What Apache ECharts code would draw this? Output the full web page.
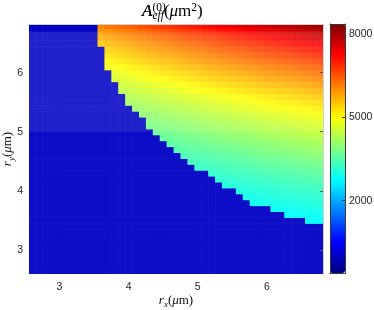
<!DOCTYPE html>
<html><head><meta charset="utf-8">
<script src="https://cdn.jsdelivr.net/npm/echarts@6/dist/echarts.min.js"></script>
<style>html,body{margin:0;padding:0;background:#fff}#c{width:374px;height:310px}</style>
</head><body><div id="c"></div>
<script>
// grid columns / rows (cell centres, micrometres)
const xValues = [2.6,2.7,2.8,2.9,3.0,3.1,3.2,3.3,3.4,3.5,3.6,3.7,3.8,3.9,4.0,4.1,4.2,4.3,4.4,4.5,4.6,4.7,4.8,4.9,5.0,5.1,5.2,5.3,5.4,5.5,5.6,5.7,5.8,5.9,6.0,6.1,6.2,6.3,6.4,6.5,6.6,6.7,6.8];
const yValues = [2.6,2.7,2.8,2.9,3.0,3.1,3.2,3.3,3.4,3.5,3.6,3.7,3.8,3.9,4.0,4.1,4.2,4.3,4.4,4.5,4.6,4.7,4.8,4.9,5.0,5.1,5.2,5.3,5.4,5.5,5.6,5.7,5.8,5.9,6.0,6.1,6.2,6.3,6.4,6.5,6.6,6.7,6.8];
// rows where the mode exists, first guided r_x of each row, and A_eff values from there to r_x = 6.8
const rowY = [6.8,6.7,6.6,6.5,6.4,6.3,6.2,6.1,6.0,5.9,5.8,5.7,5.6,5.5,5.4,5.3,5.2,5.1,5.0,4.9,4.8,4.7,4.6,4.5,4.4,4.3,4.2,4.1,4.0,3.9,3.8,3.7,3.6,3.5];
const rowFirstX = [3.6,3.6,3.6,3.6,3.7,3.7,3.7,3.7,3.8,3.8,3.9,3.9,4.0,4.0,4.1,4.2,4.3,4.3,4.4,4.5,4.6,4.7,4.8,4.9,5.0,5.2,5.3,5.4,5.6,5.7,5.8,6.1,6.3,6.6];
const rowValues = [
[6080,6160,6230,6310,6380,6450,6520,6590,6660,6730,6790,6860,6930,6990,7050,7120,7180,7240,7300,7360,7420,7480,7540,7600,7660,7710,7770,7830,7880,7940,7990,8050,8100],
[5890,5960,6030,6110,6180,6240,6310,6380,6450,6510,6570,6640,6710,6770,6820,6890,6950,7010,7070,7120,7180,7240,7300,7360,7410,7460,7520,7580,7630,7690,7730,7790,7840],
[5700,5770,5840,5910,5980,6040,6110,6180,6240,6310,6360,6430,6490,6550,6610,6670,6730,6780,6840,6900,6950,7010,7070,7120,7180,7230,7280,7340,7380,7440,7490,7540,7590],
[5510,5590,5650,5720,5790,5850,5910,5980,6040,6100,6160,6220,6280,6340,6390,6460,6510,6570,6620,6670,6730,6780,6840,6890,6950,6990,7050,7100,7150,7200,7250,7300,7350],
[5410,5470,5540,5600,5660,5720,5790,5850,5910,5960,6020,6080,6140,6190,6250,6300,6360,6410,6460,6510,6570,6620,6670,6720,6770,6820,6870,6920,6970,7010,7070,7110],
[5230,5290,5360,5420,5480,5540,5600,5660,5720,5770,5830,5890,5940,5990,6050,6100,6150,6200,6250,6310,6360,6410,6460,6510,6550,6600,6650,6700,6750,6790,6840,6880],
[5070,5120,5190,5250,5310,5360,5420,5480,5540,5590,5640,5700,5750,5800,5860,5910,5960,6000,6050,6100,6150,6200,6250,6300,6340,6390,6440,6480,6530,6570,6620,6660],
[4900,4960,5020,5080,5140,5190,5250,5300,5360,5410,5460,5520,5570,5610,5670,5720,5760,5810,5860,5910,5960,6000,6050,6100,6140,6190,6230,6270,6320,6360,6410,6450],
[4800,4860,4920,4970,5030,5080,5130,5190,5230,5290,5340,5390,5440,5490,5540,5580,5630,5670,5720,5770,5810,5860,5910,5940,5990,6040,6070,6120,6160,6210,6240],
[4650,4710,4760,4810,4870,4920,4970,5020,5070,5120,5170,5220,5260,5310,5360,5400,5450,5490,5540,5580,5630,5670,5720,5750,5800,5840,5880,5930,5960,6010,6040],
[4560,4610,4660,4710,4760,4810,4860,4900,4950,5000,5050,5090,5140,5190,5230,5270,5320,5360,5400,5450,5490,5530,5570,5610,5660,5690,5730,5770,5810,5850],
[4410,4460,4510,4560,4610,4660,4700,4750,4800,4850,4890,4930,4980,5020,5060,5100,5150,5190,5230,5270,5310,5360,5390,5430,5470,5510,5550,5590,5630,5660],
[4320,4370,4410,4460,4510,4560,4600,4640,4690,4730,4770,4820,4860,4900,4940,4980,5020,5060,5100,5140,5180,5220,5260,5300,5330,5370,5410,5450,5480],
[4180,4230,4270,4320,4360,4410,4450,4500,4540,4580,4620,4670,4700,4740,4780,4820,4860,4900,4940,4980,5020,5050,5090,5130,5160,5200,5240,5270,5310],
[4090,4140,4180,4220,4270,4310,4350,4400,4430,4470,4520,4550,4590,4630,4670,4710,4740,4780,4820,4860,4890,4930,4970,5000,5040,5070,5100,5140],
[4000,4050,4090,4130,4170,4210,4260,4290,4330,4370,4410,4440,4480,4520,4560,4590,4630,4670,4700,4730,4770,4810,4840,4880,4900,4940,4970],
[3920,3960,4000,4040,4080,4120,4150,4190,4230,4270,4300,4340,4370,4410,4450,4480,4520,4550,4580,4620,4650,4680,4720,4750,4780,4810],
[3790,3830,3870,3910,3950,3990,4020,4060,4100,4130,4170,4200,4230,4270,4300,4340,4370,4410,4440,4470,4500,4530,4570,4600,4630,4660],
[3710,3750,3780,3820,3860,3890,3930,3970,4000,4030,4070,4100,4130,4170,4200,4230,4270,4290,4330,4360,4390,4420,4450,4480,4510],
[3630,3660,3700,3740,3770,3800,3840,3870,3900,3940,3970,4000,4030,4060,4100,4130,4160,4190,4220,4250,4280,4310,4340,4370],
[3540,3580,3620,3650,3680,3720,3750,3780,3810,3840,3870,3900,3940,3970,4000,4020,4050,4090,4110,4140,4170,4200,4230],
[3470,3500,3530,3560,3600,3630,3660,3690,3720,3750,3780,3810,3840,3870,3900,3920,3960,3980,4010,4040,4070,4090],
[3390,3420,3450,3480,3510,3540,3570,3600,3630,3660,3690,3720,3750,3770,3800,3830,3850,3880,3910,3940,3960],
[3310,3340,3370,3400,3430,3450,3480,3510,3540,3570,3600,3630,3650,3680,3710,3730,3760,3780,3810,3830],
[3230,3260,3290,3320,3340,3370,3400,3430,3460,3480,3510,3530,3560,3590,3610,3640,3660,3690,3710],
[3180,3210,3240,3260,3290,3320,3340,3370,3400,3420,3450,3470,3500,3520,3540,3570,3590],
[3110,3140,3160,3190,3210,3240,3260,3290,3310,3340,3360,3380,3410,3430,3460,3480],
[3030,3060,3080,3110,3130,3160,3180,3200,3230,3250,3280,3300,3320,3350,3370],
[2990,3010,3030,3060,3080,3100,3130,3150,3170,3190,3210,3240,3260],
[2910,2940,2960,2980,3000,3030,3050,3070,3090,3110,3140,3150],
[2840,2870,2890,2910,2930,2950,2970,2990,3010,3030,3050],
[2810,2840,2860,2880,2900,2920,2940,2960],
[2770,2780,2800,2820,2840,2860],
[2730,2750,2770]
];
const cutoffValue = 0;          // below cutoff (no guided mode)
const xTicks = [3, 4, 5, 6];
const yTicks = [3, 4, 5, 6];
const colorbarTicks = [2000, 5000, 8000];
const xRange = [2.56, 6.81];
const yRange = [2.59, 6.825];
const colorRange = [-603, 8360];

const cells = [];
yValues.forEach(function (y) {
  const r = rowY.indexOf(y);
  xValues.forEach(function (x) {
    let v = cutoffValue;
    if (r >= 0) {
      const k = Math.round((x - rowFirstX[r]) * 10);
      if (k >= 0 && k < rowValues[r].length) v = rowValues[r][k];
    }
    cells.push([x, y, v]);
  });
});

const halfX = (xValues[1] - xValues[0]) / 2;
const halfY = (yValues[1] - yValues[0]) / 2;
// image patches: lower/upper y limit and white wash strength
const washBands = [[yRange[0], 5.0, 0.05], [5.0, 6.7, 0.13]];

const jet = ['#000080','#0000ff','#0080ff','#00ffff','#80ff80','#ffff00','#ff8000','#ff0000','#800000'];

const serif = 'Liberation Serif';
function rich(size, sub, lh, slh) {
  return {
    it: {fontFamily: serif, fontStyle: 'italic', fontSize: size, lineHeight: lh, color: '#111'},
    n: {fontFamily: serif, fontSize: size, lineHeight: lh, color: '#111'},
    sub: {fontFamily: serif, fontStyle: 'italic', fontSize: sub, lineHeight: slh, verticalAlign: 'bottom', color: '#111'},
    sup: {fontFamily: serif, fontSize: sub, lineHeight: slh, verticalAlign: 'top', color: '#111'},
    ghost: {fontFamily: serif, fontStyle: 'italic', fontSize: size, lineHeight: lh, color: 'rgba(0,0,0,0)'}
  };
}
const plain = function (v) { return String(v); };

const chart = echarts.init(document.getElementById('c'), null, {renderer: 'canvas'});
const sans = 'Liberation Sans';
chart.setOption({
  animation: false,
  backgroundColor: '#fff',
  grid: [
    {left: 29, top: 24, width: 294, height: 250, outerBoundsMode: 'none', containLabel: false},
    {left: 330, top: 24, width: 15, height: 249, outerBoundsMode: 'none', containLabel: false}
  ],
  xAxis: [
    {gridIndex: 0, type: 'value', min: xRange[0], max: xRange[1],
     axisLine: {show: false, onZero: false}, axisTick: {show: false}, splitLine: {show: false},
     axisLabel: {customValues: xTicks, formatter: plain, fontFamily: sans, fontSize: 10.5, color: '#262626', margin: 8},
     name: '{it|r}{sub|x}{n|(}{it|μ}{n|m)}', nameLocation: 'middle', nameGap: 19, nameMoveOverlap: false,
     nameTextStyle: {rich: rich(13, 9, 16, 9)}},
    {gridIndex: 0, type: 'value', position: 'top', min: xRange[0], max: xRange[1],
     axisLine: {show: true, onZero: false, lineStyle: {color: '#cfcfcf', width: 1}}, axisTick: {show: false},
     axisLabel: {show: false}, splitLine: {show: false}, z: 10},
    {gridIndex: 1, type: 'value', min: 0, max: 1, position: 'bottom',
     axisLine: {show: true, onZero: false, lineStyle: {color: '#3a3a3a'}}, axisTick: {show: false},
     axisLabel: {show: false}, splitLine: {show: false}, z: 10},
    {gridIndex: 1, type: 'value', min: 0, max: 1, position: 'top',
     axisLine: {show: true, onZero: false, lineStyle: {color: '#3a3a3a'}}, axisTick: {show: false},
     axisLabel: {show: false}, splitLine: {show: false}, z: 10}
  ],
  yAxis: [
    {gridIndex: 0, type: 'value', min: yRange[0], max: yRange[1],
     axisLine: {show: false, onZero: false}, axisTick: {show: false}, splitLine: {show: false},
     axisLabel: {customValues: yTicks, formatter: plain, fontFamily: sans, fontSize: 10.5, color: '#262626', margin: 6},
     name: '{it|r}{sub|y}{n|(}{it|μ}{n|m)}', nameLocation: 'middle', nameGap: 13, nameMoveOverlap: false,
     nameTextStyle: {rich: rich(13, 9, 16, 9)}},
    {gridIndex: 0, type: 'value', position: 'right', min: yRange[0], max: yRange[1],
     axisLine: {show: true, onZero: false, lineStyle: {color: '#cfcfcf', width: 1}},
     axisTick: {show: true, inside: true, length: 3, customValues: yTicks, lineStyle: {color: '#555'}},
     axisLabel: {show: false}, splitLine: {show: false}, z: 10},
    {gridIndex: 1, type: 'value', position: 'right', min: colorRange[0], max: colorRange[1],
     axisLine: {show: true, onZero: false, lineStyle: {color: '#3a3a3a'}},
     axisTick: {show: true, inside: true, length: 3, customValues: colorbarTicks, lineStyle: {color: '#3a3a3a'}},
     axisLabel: {customValues: colorbarTicks, formatter: plain, fontFamily: sans, fontSize: 10.5, color: '#262626', margin: 4},
     splitLine: {show: false}, z: 10},
    {gridIndex: 1, type: 'value', position: 'left', min: colorRange[0], max: colorRange[1],
     axisLine: {show: true, onZero: false, lineStyle: {color: '#3a3a3a'}}, axisTick: {show: false},
     axisLabel: {show: false}, splitLine: {show: false}, z: 10}
  ],
  visualMap: {
    type: 'continuous', min: colorRange[0], max: colorRange[1], dimension: 2, seriesIndex: 0,
    inRange: {color: jet}, calculable: false, hoverLink: false, realtime: false,
    orient: 'vertical', left: 330, top: 24, itemWidth: 15, itemHeight: 249, padding: 0,
    text: null, showLabel: false
  },
  graphic: [
    {type: 'text', x: 142, y: 12, silent: true,
     style: {text: '{it|A}{sub|eff}{n|(}{it|μ}{n|m}{sup|2}{n|)}', rich: rich(17, 11.5, 20, 10), align: 'left', verticalAlign: 'middle'}},
    {type: 'text', x: 142, y: 12, silent: true,
     style: {text: '{ghost|A}{sup|(0)}', rich: rich(17, 11.5, 20, 10), align: 'left', verticalAlign: 'middle'}}
  ],
  series: [{
    type: 'custom', coordinateSystem: 'cartesian2d', xAxisIndex: 0, yAxisIndex: 0,
    clip: true, silent: true, data: cells,
    renderItem: function (params, api) {
      const x = api.value(0), y = api.value(1);
      const p0 = api.coord([x - halfX, y + halfY]);
      const p1 = api.coord([x + halfX, y - halfY]);
      return {type: 'rect', shape: {x: p0[0], y: p0[1], width: p1[0] - p0[0] + 0.6, height: p1[1] - p0[1] + 0.6},
        style: {fill: api.visual('color')}};
    }
  }, {
    type: 'custom', coordinateSystem: 'cartesian2d', xAxisIndex: 0, yAxisIndex: 0,
    clip: true, silent: true, data: washBands, z: 3,
    renderItem: function (params, api) {
      const p0 = api.coord([xRange[0], api.value(1)]);
      const p1 = api.coord([xRange[1], api.value(0)]);
      return {type: 'rect', shape: {x: p0[0], y: p0[1], width: p1[0] - p0[0], height: p1[1] - p0[1]},
        style: {fill: '#ffffff', opacity: api.value(2)}};
    }
  }]
});
</script></body></html>
